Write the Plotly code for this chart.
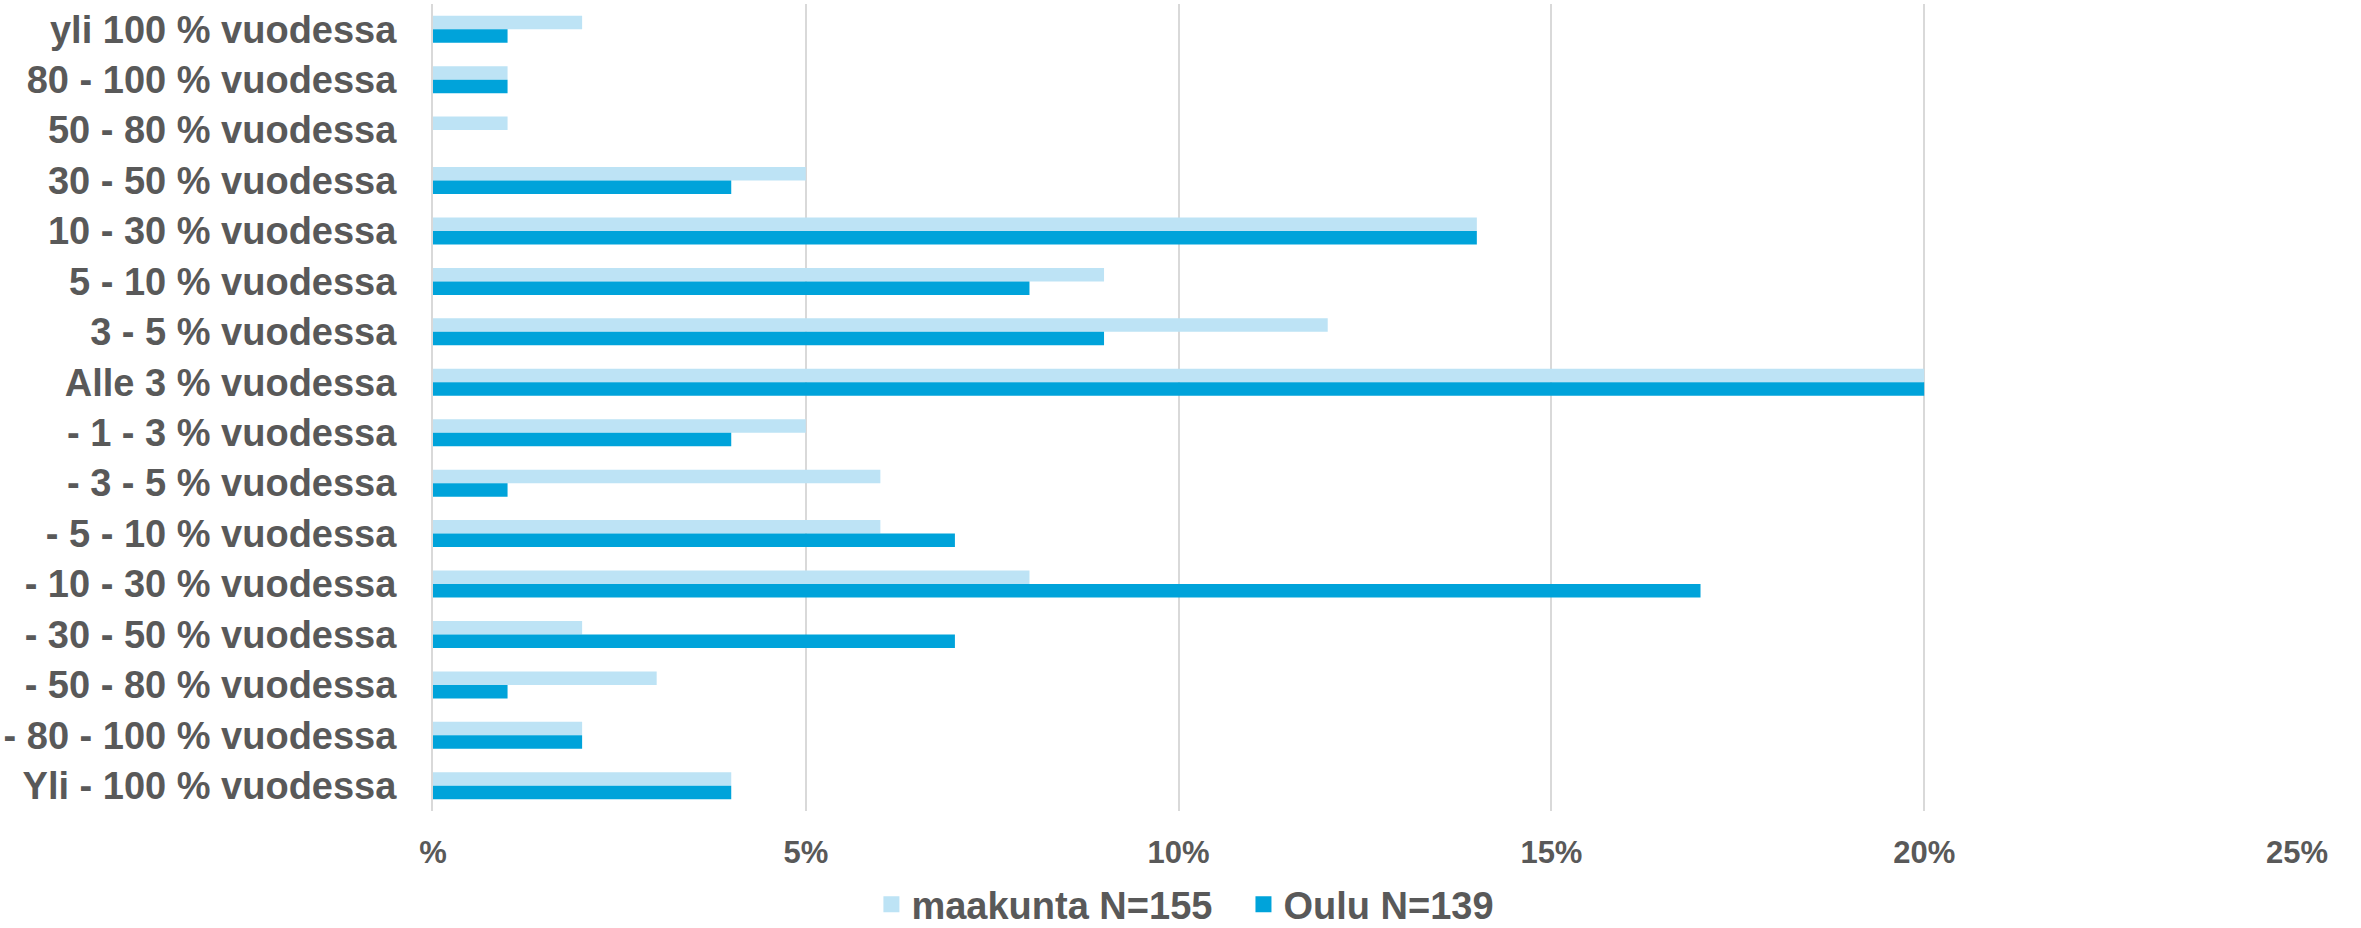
import plotly.graph_objects as go

categories = [
    "yli 100 % vuodessa", "80 - 100 % vuodessa", "50 - 80 % vuodessa",
    "30 - 50 % vuodessa", "10 - 30 % vuodessa", "5 - 10 % vuodessa",
    "3 - 5 % vuodessa", "Alle 3 % vuodessa", "- 1 - 3 % vuodessa",
    "- 3 - 5 % vuodessa", "- 5 - 10 % vuodessa", "- 10 - 30 % vuodessa",
    "- 30 - 50 % vuodessa", "- 50 - 80 % vuodessa", "- 80 - 100 % vuodessa",
    "Yli - 100 % vuodessa",
]
maakunta = [2, 1, 1, 5, 14, 9, 12, 20, 5, 6, 6, 8, 2, 3, 2, 4]
oulu = [1, 1, 0, 4, 14, 8, 9, 20, 4, 1, 7, 17, 7, 1, 2, 4]
series_names = ["maakunta N=155", "Oulu N=139"]
series_colors = ["#BDE3F5", "#00A3DA"]
tick_vals = [0, 5, 10, 15, 20, 25]
tick_text = ["%", "5%", "10%", "15%", "20%", "25%"]

FONT = "Liberation Sans"
TXT = "#595959"

fig = go.Figure()
for vals, name, col in zip([maakunta, oulu], series_names, series_colors):
    fig.add_trace(go.Bar(y=categories, x=vals, orientation="h",
                         name=name, marker_color=col,
                         marker_line_width=0, showlegend=False))

# legend entries with square symbols
for i, (name, col) in enumerate(zip(series_names, series_colors)):
    fig.add_trace(go.Scatter(x=[None], y=[None], mode="markers", name=name,
                             marker=dict(symbol="square", size=19, color=col,
                                         line_width=0),
                             showlegend=True,
                             legend="legend" if i == 0 else "legend2"))

legend_font = dict(size=38, family=FONT, color=TXT, weight="bold")
fig.update_layout(
    width=2361, height=928,
    margin=dict(l=433, r=64, t=4, b=117, autoexpand=False),
    plot_bgcolor="white", paper_bgcolor="white",
    barmode="group", bargap=0.465, bargroupgap=0,
    font=dict(family=FONT, color=TXT),
    showlegend=True,
    legend=dict(orientation="h", x=0.2352, xanchor="left", y=-0.116,
                yanchor="middle", font=legend_font, itemwidth=30,
                bgcolor="rgba(0,0,0,0)"),
    legend2=dict(orientation="h", x=0.4348, xanchor="left", y=-0.116,
                 yanchor="middle", font=legend_font, itemwidth=30,
                 bgcolor="rgba(0,0,0,0)"),
)
fig.update_xaxes(range=[0, 25], tickvals=tick_vals, ticktext=tick_text,
                 showgrid=True, gridcolor="#D9D9D9", gridwidth=2,
                 zeroline=False, showline=False, automargin=False,
                 tickfont=dict(size=31, family=FONT, color=TXT, weight="bold"),
                 ticklabelstandoff=20)
fig.update_yaxes(autorange="reversed", showgrid=False, zeroline=False,
                 showline=True, linecolor="#D9D9D9", linewidth=2, automargin=False,
                 tickfont=dict(size=38, family=FONT, color=TXT, weight="bold"),
                 ticklabelstandoff=27)

fig.write_html("out.html", config={"displayModeBar": False},
               post_script="document.body.style.margin='0';document.body.style.padding='0';document.body.style.overflow='hidden';")
